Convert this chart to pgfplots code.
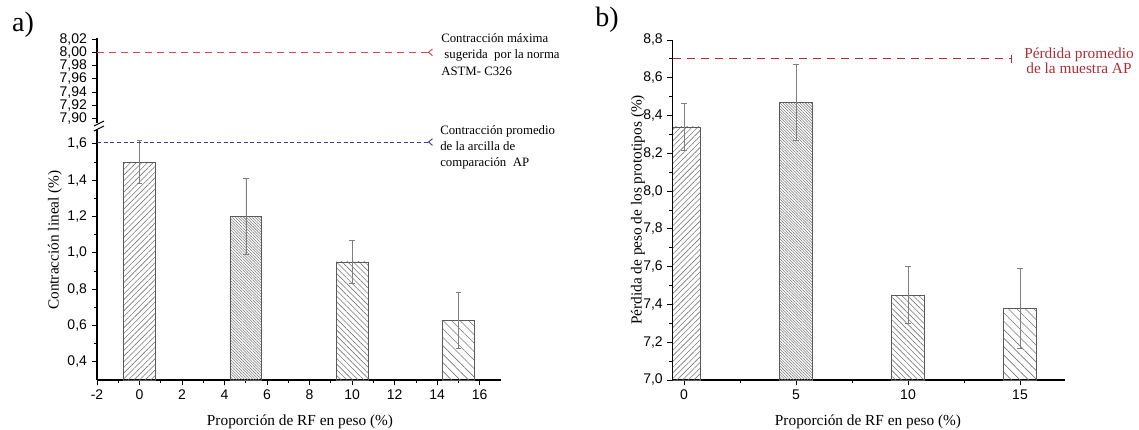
\documentclass[border=0pt]{standalone}
\usepackage{fontspec}
\setmainfont{Liberation Serif}
\setsansfont{Liberation Sans}
\usepackage{pgfplots}
\pgfplotsset{compat=1.18}
\usetikzlibrary{patterns.meta,arrows.meta}

\definecolor{lred}{RGB}{205,75,75}
\definecolor{dred}{RGB}{175,45,55}
\definecolor{dblue}{RGB}{60,60,150}
\definecolor{barline}{RGB}{90,90,90}
\definecolor{hatch}{RGB}{120,120,120}

\pgfplotsset{
  base/.style={
    scale only axis, anchor=south west,
    axis line style={-,line width=0.8pt},
    tick align=outside,
    tick style={black,line width=0.6pt},
    major tick length=4pt, minor tick length=2.5pt,
    tick label style={font=\fontsize{10.5}{12}\sffamily},
    /pgf/number format/assume math mode=true,
    /pgf/number format/use comma,
  },
  barA/.style={ybar, bar width=1.5, bar shift=0pt, draw=barline, line width=0.5pt,
    pattern={Lines[angle=45,distance=3pt,line width=0.45pt]}, pattern color=hatch},
  barB/.style={ybar, bar width=1.5, bar shift=0pt, draw=barline, line width=0.5pt,
    pattern={Lines[angle=-45,distance=1.5pt,line width=0.4pt]}, pattern color=hatch},
  barC/.style={ybar, bar width=1.5, bar shift=0pt, draw=barline, line width=0.5pt,
    pattern={Lines[angle=-45,distance=3pt,line width=0.45pt]}, pattern color=hatch},
  barD/.style={ybar, bar width=1.5, bar shift=0pt, draw=barline, line width=0.5pt,
    pattern={Lines[angle=-45,distance=4.5pt,line width=0.45pt]}, pattern color=hatch},
  eb/.style={error bars/.cd, y dir=both, y explicit,
    error mark=-,
    error bar style={gray, line width=0.5pt},
    error mark options={rotate=90, gray, mark size=2.2pt, line width=0.5pt}},
}

\begin{document}
\begin{tikzpicture}
\path[use as bounding box] (0,0) rectangle (854.25pt,321.75pt);

% ---------- a) lower segment ----------
\begin{axis}[base,
  at={(72.75pt,36.75pt)}, width=303pt, height=188pt,
  xmin=-2, xmax=17, ymin=0.3, ymax=1.68,
  axis x line*=bottom, axis y line*=left,
  xtick={-2,0,2,4,6,8,10,12,14,16}, minor x tick num=1,
  ytick={0.4,0.6,0.8,1.0,1.2,1.4,1.6}, minor y tick num=1,
  yticklabel style={/pgf/number format/.cd, fixed, fixed zerofill, precision=1},
]
\addplot[barA, eb] coordinates {(0,1.50) +- (0,0.12)};
\addplot[barB, eb] coordinates {(5,1.20) +- (0,0.21)};
\addplot[barC, eb] coordinates {(10,0.95) +- (0,0.12)};
\addplot[barD, eb] coordinates {(15,0.63) +- (0,0.155)};
\addplot[dblue, line width=0.7pt, dash pattern=on 3pt off 2pt,
  -{Straight Barb[reversed,length=3pt,width=5pt]}] coordinates {(-2,1.61) (13.8,1.61)};
\end{axis}

% ---------- a) upper segment ----------
\begin{axis}[base,
  at={(72.75pt,229.4pt)}, width=303pt, height=64pt,
  xmin=-2, xmax=17, ymin=7.893, ymax=8.022,
  axis y line*=left, axis x line=none,
  ytick={7.90,7.92,7.94,7.96,7.98,8.00,8.02},
  yticklabel style={/pgf/number format/.cd, fixed, fixed zerofill, precision=2},
]
\addplot[lred, line width=0.7pt, dash pattern=on 5pt off 4pt,
  -{Straight Barb[reversed,length=3pt,width=5pt]}] coordinates {(-2,8.0) (13.8,8.0)};
\end{axis}

% break marks
\draw[line width=0.7pt] (70.5pt,227.25pt) -- (78pt,231pt);
\draw[line width=0.7pt] (70.5pt,223.5pt) -- (78pt,227.25pt);

% ---------- b) ----------
\begin{axis}[base,
  at={(504.6pt,36.75pt)}, width=294pt, height=255pt,
  xmin=-0.5, xmax=17, ymin=7.0, ymax=8.8,
  axis x line*=bottom, axis y line*=left,
  xtick={0,5,10,15}, minor x tick num=1,
  ytick={7.0,7.2,7.4,7.6,7.8,8.0,8.2,8.4,8.6,8.8}, minor y tick num=1,
  yticklabel style={/pgf/number format/.cd, fixed, fixed zerofill, precision=1},
]
\addplot[barA, eb] coordinates {(0,8.34) +- (0,0.125)};
\addplot[barB, eb] coordinates {(5,8.47) +- (0,0.20)};
\addplot[barC, eb] coordinates {(10,7.45) +- (0,0.15)};
\addplot[barD, eb] coordinates {(15,7.38) +- (0,0.21)};
\addplot[dred, line width=0.7pt, dash pattern=on 6pt off 4.5pt,
  -{Bar[width=6pt]}] coordinates {(-0.5,8.7) (14.64,8.7)};
\end{axis}

% ---------- texts ----------
\node[font=\fontsize{21}{24}\selectfont] at (17.25pt,303pt) {a)};
\node[font=\fontsize{21}{24}\selectfont] at (455.25pt,306.75pt) {b)};

\node[anchor=west, align=left, inner sep=0pt, font=\fontsize{9.6}{12.5}\selectfont]
  at (330.75pt,280.9pt) {Contracción máxima\\\ sugerida\ \ por la norma\\ASTM- C326};
\node[anchor=west, align=left, inner sep=0pt, font=\fontsize{9.6}{12}\selectfont]
  at (330pt,211.5pt) {Contracción promedio\\de la arcilla de\\comparación\ \ AP};
\node[align=center, inner sep=0pt, text=dred, font=\fontsize{11.5}{11.5}\selectfont]
  at (809.25pt,276.4pt) {Pérdida promedio\\de la muestra AP};

\node[rotate=90, font=\fontsize{11.5}{13}\selectfont] at (41.25pt,141.75pt) {Contracción lineal (\%)};
\node[rotate=90, font=\fontsize{11.5}{13}\selectfont] at (478.5pt,164.25pt) {Pérdida de peso de los prototipos (\%)};
\node[font=\fontsize{11.5}{13}\selectfont] at (225pt,5.5pt) {Proporción de RF en peso (\%)};
\node[font=\fontsize{11.5}{13}\selectfont] at (651pt,5.5pt) {Proporción de RF en peso (\%)};
\end{tikzpicture}
\end{document}
